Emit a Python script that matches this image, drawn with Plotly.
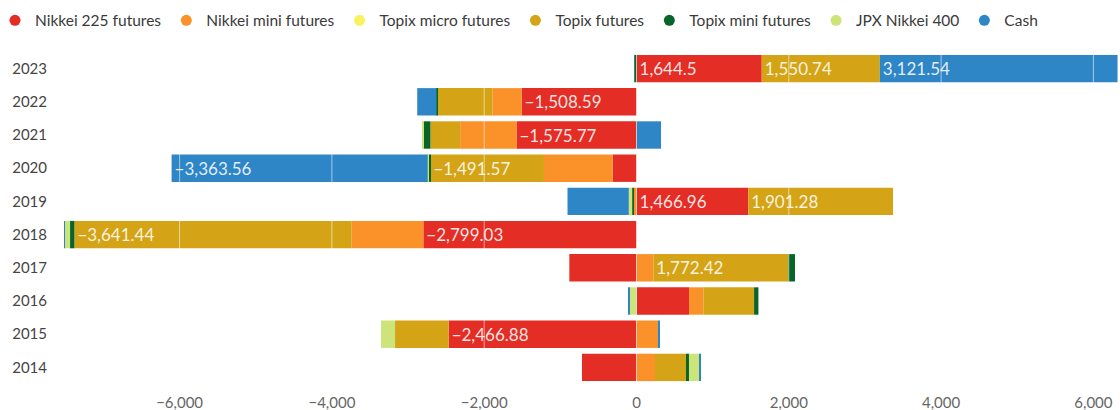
import plotly.graph_objects as go

years = ["2023", "2022", "2021", "2020", "2019", "2018", "2017", "2016", "2015", "2014"]
nikkei225 = [1644.5, -1508.59, -1575.77, -313, 1466.96, -2799.03, -882, 690, -2466.88, -716]
nikkei_mini = [0, -385, -740, -902, -35, -941, 221, 188, 287, 243]
topix_micro = [0, 0, 0, 0, 0, 0, 0, 0, 0, 0]
topix = [1550.74, -718, -390, -1491.57, 1901.28, -3641.44, 1772.42, 666, -704, 407]
topix_mini = [-30, -15, -92, -20, -21, -57, 88, 57, 0, 39]
jpx400 = [0, 0, -10, -15, -45, -75, 0, -95, -184, 144]
cash = [3121.54, -253, 322, -3363.56, -805, -20, 0, -15, 15, 13]

series_names = ["Nikkei 225 futures", "Nikkei mini futures", "Topix micro futures",
                "Topix futures", "Topix mini futures", "JPX Nikkei 400", "Cash"]
series_values = [nikkei225, nikkei_mini, topix_micro, topix, topix_mini, jpx400, cash]
colors = ["#e32d25", "#fa9129", "#f7f25e", "#d4a416", "#08652a", "#cce47a", "#2f86c7"]

x_ticks = [-6000, -4000, -2000, 0, 2000, 4000, 6000]
LABEL_MIN = 1400
FONT = "Lato"


def fmt(v):
    s = f"{v:,}"
    return s.replace("-", "\u2212")


fig = go.Figure()

for name, vals, col in zip(series_names, series_values, colors):
    for sign, anchor in ((1, "start"), (-1, "end")):
        xs = [v if v * sign > 0 else None for v in vals]
        txt = [fmt(v) if (v is not None and abs(v) >= LABEL_MIN) else "" for v in xs]
        fig.add_trace(go.Bar(
            y=years, x=xs, orientation="h", name=name,
            marker=dict(color=col, line=dict(width=0)),
            text=txt, textposition="inside", insidetextanchor=anchor,
            textangle=0,
            insidetextfont=dict(family=FONT, size=17, color="rgba(255,255,255,0.88)"),
            showlegend=False, legendgroup=name, hoverinfo="skip",
        ))

# legend entries with circular markers
for name, col in zip(series_names, colors):
    fig.add_trace(go.Scatter(
        x=[None], y=[None], mode="markers", name=name, legendgroup=name,
        marker=dict(color=col, size=11, symbol="circle"), showlegend=True,
    ))

for t in x_ticks:
    fig.add_shape(type="line", xref="x", yref="paper", x0=t, x1=t, y0=0, y1=1,
                  line=dict(color="rgba(255,255,255,0.55)", width=1), layer="above")

fig.update_layout(
    width=1120, height=410,
    margin=dict(l=64, r=1, t=52, b=26, autoexpand=False),
    barmode="relative", bargap=0.175,
    paper_bgcolor="white", plot_bgcolor="white",
    font=dict(family=FONT, color="#444"),
    legend=dict(orientation="h", x=-69 / 1055, xanchor="left", y=1.043,
                yanchor="bottom", font=dict(family=FONT, size=15.5, color="#3a3a3a"),
                itemclick=False, itemdoubleclick=False, tracegroupgap=0),
    xaxis=dict(range=[-7518, 6336], tickvals=x_ticks,
               ticktext=[fmt(t) for t in x_ticks],
               showgrid=False, zeroline=False, showline=False,
               ticks="outside", ticklen=5, tickcolor="rgba(0,0,0,0)",
               tickfont=dict(family=FONT, size=15, color="#666")),
    yaxis=dict(categoryorder="array", categoryarray=years, autorange="reversed",
               showgrid=False, zeroline=False, showline=False,
               ticks="outside", ticklen=13, tickcolor="rgba(0,0,0,0)",
               tickfont=dict(family=FONT, size=15, color="#444")),
)

fig.write_html("out.html")
